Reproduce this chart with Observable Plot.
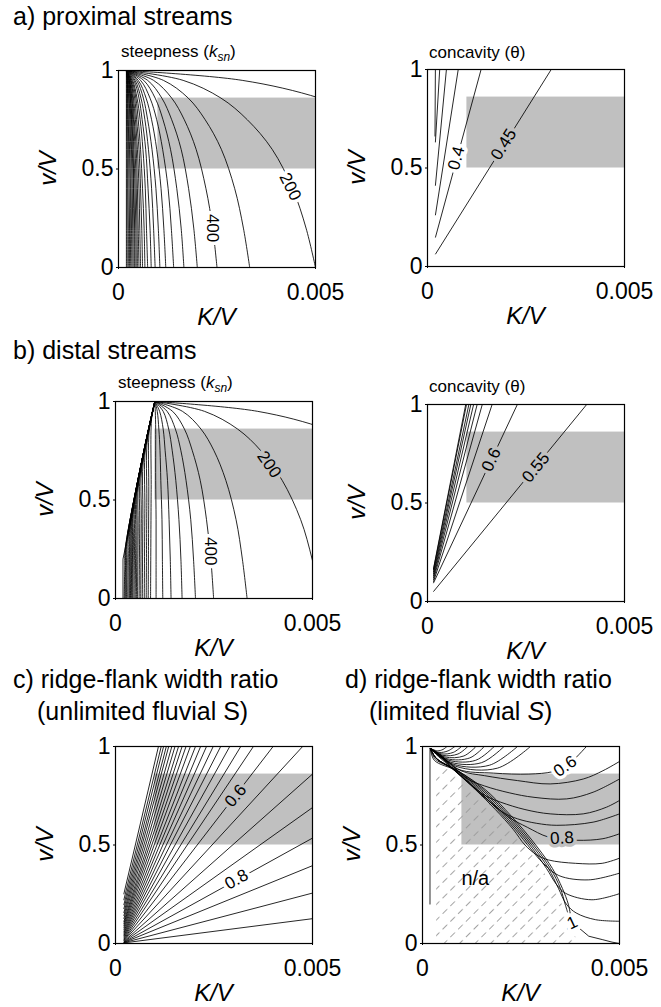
<!DOCTYPE html>
<html><head><meta charset="utf-8">
<script src="https://cdn.jsdelivr.net/npm/d3@7"></script>
<script src="https://cdn.jsdelivr.net/npm/@observablehq/plot@0.6"></script>
<style>
html,body{margin:0;padding:0;background:#fff;}
#page{position:relative;width:661px;height:1007px;overflow:hidden;font-family:"Liberation Sans",Arial,Helvetica,sans-serif;}
</style></head><body><div id="page"></div>
<script>
// ---------------- data (K/V values stored in thousandths) ----------------
const KV = 1e-3;
const xTicks = [0, 0.005];
const yTicks = [0, 0.5, 1];
const shadeKV = [1, 5];          // shaded K/V range (x 0.001)
const shadeV = [0.5, 0.86];      // shaded v/V range

// a) proximal steepness: x of each contour at shared v/V levels
const aSteepY = [0, 0.2, 0.4, 0.6, 0.75, 0.86, 0.95, 1];
const aSteepX = [
 [10.0, 9.51, 8.82, 7.75, 6.47, 5.10, 3.14, 0.2],
 [5.00, 4.76, 4.42, 3.90, 3.27, 2.60, 1.64, 0.2],
 [3.33, 3.17, 2.95, 2.61, 2.20, 1.77, 1.14, 0.2],
 [2.50, 2.39, 2.22, 1.97, 1.67, 1.35, 0.89, 0.2],
 [2.00, 1.91, 1.78, 1.59, 1.35, 1.10, 0.74, 0.2],
 [1.66, 1.59, 1.48, 1.32, 1.13, 0.93, 0.64, 0.2],
 [1.40, 1.34, 1.26, 1.12, 0.97, 0.80, 0.56, 0.2],
 [1.20, 1.15, 1.08, 0.97, 0.84, 0.70, 0.50, 0.2],
 [1.05, 1.01, 0.95, 0.85, 0.74, 0.63, 0.46, 0.2],
 [0.93, 0.89, 0.84, 0.76, 0.67, 0.57, 0.42, 0.2],
 [0.83, 0.80, 0.75, 0.69, 0.60, 0.52, 0.39, 0.2],
 [0.74, 0.71, 0.68, 0.62, 0.55, 0.47, 0.36, 0.2],
 [0.67, 0.65, 0.61, 0.56, 0.50, 0.44, 0.34, 0.2],
 [0.61, 0.59, 0.56, 0.52, 0.46, 0.41, 0.32, 0.2],
 [0.56, 0.54, 0.52, 0.48, 0.43, 0.38, 0.31, 0.2],
 [0.52, 0.50, 0.48, 0.45, 0.40, 0.36, 0.30, 0.2],
 [0.48, 0.47, 0.45, 0.42, 0.38, 0.34, 0.28, 0.2],
 [0.45, 0.44, 0.42, 0.39, 0.36, 0.33, 0.28, 0.2],
 [0.42, 0.41, 0.39, 0.37, 0.34, 0.31, 0.27, 0.2],
 [0.40, 0.39, 0.38, 0.35, 0.33, 0.30, 0.26, 0.2],
 [0.37, 0.36, 0.35, 0.33, 0.31, 0.29, 0.25, 0.2],
 [0.34, 0.33, 0.32, 0.31, 0.29, 0.27, 0.24, 0.2],
 [0.31, 0.30, 0.30, 0.28, 0.27, 0.26, 0.23, 0.2],
 [0.28, 0.28, 0.27, 0.26, 0.25, 0.24, 0.22, 0.2],
 [0.25, 0.25, 0.24, 0.24, 0.23, 0.23, 0.22, 0.2],
 [0.22, 0.22, 0.22, 0.22, 0.21, 0.21, 0.21, 0.2],
 [0.20, 0.20, 0.20, 0.20, 0.20, 0.20, 0.20, 0.2]
];
const aSteepLabels = [
 {text: "200", x: 4.36, y: 0.41, angle: 63},
 {text: "400", x: 2.38, y: 0.20, angle: 90}
];

// a) proximal concavity: straight contours [x1, y1, x2, y2]
const aConcSegs = [
 [0.19, 0.66, 0.20, 1.0],
 [0.20, 0.63, 0.31, 1.0],
 [0.20, 0.41, 0.48, 1.0],
 [0.20, 0.26, 0.78, 1.0],
 [0.20, 0.147, 1.36, 1.0],
 [0.20, 0.062, 3.14, 1.0]
];
const aConcLabels = [
 {text: "0.4", x: 0.73, y: 0.55, angle: -75},
 {text: "0.45", x: 1.93, y: 0.62, angle: -58}
];

// b) distal steepness
const bSteepY = [0, 0.2, 0.4, 0.6, 0.75, 0.86, 0.95, 1];
const bSteepX = [
 [9.70, 9.27, 8.66, 7.70, 6.57, 5.35, 3.61, 1.0],
 [5.20, 4.99, 4.70, 4.23, 3.69, 3.10, 2.26, 1.0],
 [3.34, 3.22, 3.06, 2.80, 2.50, 2.17, 1.70, 1.0],
 [2.49, 2.42, 2.31, 2.15, 1.95, 1.75, 1.45, 1.0],
 [2.03, 1.98, 1.91, 1.79, 1.66, 1.52, 1.31, 1.0],
 [1.69, 1.66, 1.61, 1.53, 1.44, 1.35, 1.21, 1.0],
 [1.41, 1.39, 1.36, 1.32, 1.26, 1.21, 1.12, 1.0],
 [1.20, 1.19, 1.18, 1.15, 1.13, 1.10, 1.06, 1.0],
 [1.03, 1.03, 1.03, 1.02, 1.02, 1.02, 1.01, 1.0]
];
const bSteepDense = [
 [[0.89, 0], [0.905, 0.553], [0.92, 0.921], [1, 1]],
 [[0.83, 0], [0.845, 0.52], [0.86, 0.865], [1, 1]],
 [[0.78, 0], [0.795, 0.487], [0.81, 0.812], [1, 1]],
 [[0.73, 0], [0.745, 0.458], [0.76, 0.763], [1, 1]],
 [[0.68, 0], [0.695, 0.428], [0.71, 0.714], [1, 1]],
 [[0.64, 0], [0.655, 0.405], [0.67, 0.675], [1, 1]],
 [[0.60, 0], [0.615, 0.381], [0.63, 0.635], [1, 1]],
 [[0.56, 0], [0.575, 0.36], [0.59, 0.6], [1, 1]],
 [[0.53, 0], [0.545, 0.339], [0.56, 0.565], [1, 1]],
 [[0.50, 0], [0.515, 0.32], [0.53, 0.535], [1, 1]],
 [[0.47, 0], [0.485, 0.304], [0.50, 0.506], [1, 1]],
 [[0.44, 0], [0.455, 0.288], [0.47, 0.48], [1, 1]],
 [[0.42, 0], [0.435, 0.274], [0.45, 0.457], [1, 1]],
 [[0.40, 0], [0.415, 0.262], [0.43, 0.437], [1, 1]],
 [[0.38, 0], [0.395, 0.250], [0.41, 0.417], [1, 1]],
 [[0.36, 0], [0.375, 0.238], [0.39, 0.397], [1, 1]],
 [[0.34, 0], [0.355, 0.227], [0.37, 0.378], [1, 1]],
 [[0.31, 0], [0.325, 0.209], [0.34, 0.348], [1, 1]],
 [[0.28, 0], [0.295, 0.191], [0.31, 0.319], [1, 1]],
 [[0.26, 0], [0.275, 0.179], [0.29, 0.299], [1, 1]],
 [[0.24, 0], [0.255, 0.167], [0.27, 0.279], [1, 1]],
 [[0.22, 0], [0.235, 0.155], [0.25, 0.259], [1, 1]]
];
const bSteepEdge = [[0.19, 0], [0.19, 0.2], [1, 1]];
const bSteepLabels = [
 {text: "200", x: 3.90, y: 0.68, angle: 55},
 {text: "400", x: 2.41, y: 0.24, angle: 90}
];

// b) distal concavity
const bConcSegs = [
 [0.15, 0.05, 4.04, 1.0],
 [0.15, 0.093, 2.28, 1.0],
 [0.15, 0.10, 1.64, 1.0],
 [0.15, 0.11, 1.39, 1.0],
 [0.15, 0.12, 1.26, 1.0],
 [0.15, 0.13, 1.17, 1.0],
 [0.15, 0.14, 1.10, 1.0],
 [0.15, 0.15, 1.05, 1.0],
 [0.15, 0.16, 0.99, 1.0],
 [0.15, 0.165, 0.97, 1.0]
];
const bConcLabels = [
 {text: "0.6", x: 1.62, y: 0.72, angle: -65},
 {text: "0.55", x: 2.75, y: 0.68, angle: -51}
];

// c) ridge-flank width ratio, unlimited: fan from K/V = 0.00021
const cFanX = 0.21;
const cTopEnds = [ // [start v/V, K/V where it meets v/V = 1]
 [0.25, 1.09], [0.22, 1.16], [0.195, 1.22], [0.175, 1.29], [0.155, 1.35],
 [0.14, 1.43], [0.125, 1.51], [0.11, 1.60], [0.10, 1.69], [0.09, 1.79],
 [0.08, 1.90], [0.07, 2.03], [0.06, 2.16], [0.052, 2.31], [0.045, 2.48],
 [0.038, 2.67], [0.032, 2.90], [0.026, 3.18], [0.02, 3.50], [0.016, 4.00],
 [0.013, 4.75]
];
const cRightEnds = [ // [start v/V, v/V where it meets K/V = 0.005]
 [0.010, 0.86], [0.008, 0.69], [0.006, 0.535], [0.005, 0.395], [0.004, 0.256], [0.003, 0.126]
];
const cLabels = [
 {text: "0.6", x: 3.05, y: 0.75, angle: -50},
 {text: "0.8", x: 3.07, y: 0.325, angle: -29}
];

// d) ridge-flank width ratio, limited
const dCurves = [
 [[0.2,0.99],[0.38,0.978],[0.52,0.985],[0.62,1]],
 [[0.2,0.99],[0.42,0.97],[0.65,0.978],[0.82,1]],
 [[0.2,0.99],[0.47,0.963],[0.78,0.97],[0.99,1]],
 [[0.2,0.99],[0.52,0.955],[0.9,0.962],[1.15,1]],
 [[0.2,0.99],[0.57,0.947],[1.05,0.952],[1.36,1]],
 [[0.2,0.99],[0.62,0.938],[1.2,0.942],[1.57,1]],
 [[0.2,0.99],[0.67,0.93],[1.35,0.93],[1.82,1]],
 [[0.2,0.99],[0.72,0.92],[1.5,0.918],[2.07,1]],
 [[0.2,0.99],[0.78,0.91],[1.7,0.905],[2.41,1]],
 [[0.2,0.99],[0.84,0.9],[1.9,0.89],[2.74,1]],
 [[0.2,0.99],[0.9,0.885],[1.8,0.865],[2.7,0.86],[3.3,0.872],[3.65,0.9],[4.16,1]],
 [[0.2,0.99],[0.6,0.93],[1.0,0.875],[1.57,0.852],[2.41,0.827],[3.24,0.81],[4.08,0.835],[4.58,0.877],[5,0.924]],
 [[0.2,0.99],[0.55,0.94],[0.8,0.895],[1.15,0.835],[1.57,0.8],[2.2,0.765],[2.83,0.742],[3.66,0.734],[4.33,0.768],[5,0.835]],
 [[0.2,0.99],[0.5,0.95],[0.74,0.892],[1.2,0.81],[1.6,0.75],[1.99,0.717],[2.6,0.68],[3.24,0.658],[4.08,0.658],[4.67,0.692],[5,0.726]],
 [[0.2,0.99],[0.45,0.95],[0.76,0.89],[1.25,0.8],[1.7,0.72],[2.05,0.665],[2.41,0.633],[2.9,0.61],[3.41,0.6],[4.33,0.616],[5,0.658]],
 [[0.2,0.99],[0.4,0.95],[0.78,0.886],[1.3,0.795],[1.8,0.705],[2.2,0.64],[2.66,0.59],[3.2,0.54],[3.91,0.524],[4.58,0.532],[5,0.557]],
 [[0.2,0.99],[0.35,0.94],[0.8,0.88],[1.35,0.78],[1.85,0.68],[2.3,0.58],[2.6,0.5],[2.9,0.45],[3.2,0.424],[3.88,0.407],[4.56,0.407],[5,0.433]],
 [[0.2,0.99],[0.35,0.94],[0.82,0.88],[1.4,0.78],[1.9,0.68],[2.35,0.58],[2.75,0.48],[3.05,0.41],[3.46,0.345],[4.22,0.323],[5,0.357]],
 [[0.2,0.99],[0.35,0.94],[0.84,0.88],[1.45,0.78],[1.95,0.68],[2.4,0.58],[2.8,0.48],[3.15,0.38],[3.4,0.3],[3.63,0.255],[4.3,0.222],[5,0.253]],
 [[0.2,0.99],[0.35,0.94],[0.86,0.88],[1.5,0.78],[2.0,0.68],[2.45,0.58],[2.85,0.48],[3.2,0.38],[3.45,0.28],[3.65,0.2],[3.9,0.155],[4.39,0.121],[5,0.113]],
 [[0.2,0.99],[0.33,0.935],[0.88,0.88],[1.55,0.78],[2.05,0.68],[2.5,0.58],[2.9,0.48],[3.25,0.38],[3.5,0.28],[3.62,0.2],[3.68,0.16]],
 [[0.2,0.99],[0.3,0.93],[0.9,0.875],[1.6,0.78],[2.1,0.68],[2.55,0.58],[2.95,0.48],[3.3,0.38],[3.55,0.28],[3.7,0.2],[3.76,0.14]]
];
const dStair = [[3.97,0.079],[4.22,0.037],[4.56,0.02],[4.81,0.007],[5,0]];
const dEdge = [[0.19,0.2],[0.19,0.99]];
const dNaTop = [[0.36,0.86],[0.5,0.895],[0.75,0.875],[1.0,0.84],[1.3,0.79],[1.7,0.71],[2.1,0.62],[2.5,0.52],[2.9,0.42],[3.25,0.31],[3.5,0.22],[3.65,0.15],[3.8,0.08],[3.95,0]];
const dLabels = [
 {text: "0.6", x: 3.62, y: 0.90, angle: -35},
 {text: "0.8", x: 3.54, y: 0.535, angle: -4},
 {text: "1", x: 3.80, y: 0.105, angle: -25}
];
const dNote = [{text: "n/a", x: 1.34, y: 0.33}];

// ---------------- drawing ----------------
const FONT = '"Liberation Sans", Arial, Helvetica, sans-serif';
const GRAY = "#c0c0c0";
const S = 197, ML = 100, MR = 45, MT = 15, MB = 70;
const page = document.getElementById("page");
const shade = [{x1: shadeKV[0]*KV, x2: shadeKV[1]*KV, y1: shadeV[0], y2: shadeV[1]}];
const inShade = d => d.x >= shadeKV[0] && d.y >= shadeV[0] && d.y <= shadeV[1];

const fromGrid = (ys, rows) => rows.flatMap((row, i) => row.map((x, j) => ({x: x*KV, y: ys[j], id: i})));
const fromPaths = list => list.flatMap((pts, i) => pts.map(([x, y]) => ({x: x*KV, y, id: i})));
const fromSegs = list => list.map(([x1, y1, x2, y2]) => ({x1: x1*KV, y1, x2: x2*KV, y2}));
const lineOpts = {x: "x", y: "y", z: "id", stroke: "black", strokeWidth: 0.85, clip: true};
const curved = data => Plot.line(data, {...lineOpts, curve: "catmull-rom"});
const straight = data => Plot.line(data, {...lineOpts, curve: "linear"});
const links = data => Plot.link(data, {x1: "x1", y1: "y1", x2: "x2", y2: "y2", stroke: "black", strokeWidth: 0.85, clip: true});
function labelMarks(labels) {
  const mk = (list, halo) => Plot.text(list, {x: d => d.x*KV, y: "y", text: "text", rotate: "angle",
    fontSize: 17, fill: "black", stroke: halo, strokeWidth: 7, paintOrder: "stroke", strokeLinejoin: "round"});
  return [mk(labels.filter(inShade), GRAY), mk(labels.filter(d => !inShade(d)), "white")];
}
const tickFmt = d => String(d);

function makePanel(FL, FT, marks, after) {
  const svg = Plot.plot({
    width: ML + S + MR, height: MT + S + MB,
    marginLeft: ML, marginRight: MR, marginTop: MT, marginBottom: MB,
    style: {background: "none", fontFamily: FONT, fontSize: "23px", color: "black", overflow: "visible"},
    x: {domain: [0, 0.005], ticks: xTicks, tickFormat: tickFmt, tickSize: 2, tickPadding: 14, label: null},
    y: {domain: [0, 1], ticks: yTicks, tickFormat: tickFmt, tickSize: 2, tickPadding: 3, label: null},
    marks: [
      Plot.rect(shade, {x1: "x1", x2: "x2", y1: "y1", y2: "y2", fill: GRAY}),
      ...marks,
      Plot.frame({stroke: "black", strokeWidth: 1.2})
    ]
  });
  svg.style.position = "absolute";
  svg.style.left = (FL - ML) + "px";
  svg.style.top = (FT - MT) + "px";
  if (after) after(svg);
  page.appendChild(svg);
}

const P = {
  aL: {FL: 118, FT: 70}, aR: {FL: 427, FT: 69},
  bL: {FL: 115, FT: 401}, bR: {FL: 427, FT: 404},
  c: {FL: 115, FT: 746}, d: {FL: 422, FT: 746}
};

makePanel(P.aL.FL, P.aL.FT, [curved(fromGrid(aSteepY, aSteepX)), ...labelMarks(aSteepLabels)]);
makePanel(P.aR.FL, P.aR.FT, [links(fromSegs(aConcSegs)), ...labelMarks(aConcLabels)]);
makePanel(P.bL.FL, P.bL.FT, [curved(fromGrid(bSteepY, bSteepX)), curved(fromPaths(bSteepDense)),
  straight(fromPaths([bSteepEdge])), ...labelMarks(bSteepLabels)]);
makePanel(P.bR.FL, P.bR.FT, [links(fromSegs(bConcSegs)), ...labelMarks(bConcLabels)]);
const cSegs = [
  ...cTopEnds.map(([yb, xt]) => [cFanX, yb, xt, 1]),
  ...cRightEnds.map(([yb, yr]) => [cFanX, yb, 5, yr])
];
makePanel(P.c.FL, P.c.FT, [links(fromSegs(cSegs)), ...labelMarks(cLabels)]);
makePanel(P.d.FL, P.d.FT, [
  Plot.areaY(dNaTop, {x: d => d[0]*KV, y1: 0, y2: d => d[1], fill: "url(#naHatch)", curve: "linear"}),
  curved(fromPaths(dCurves)), straight(fromPaths([dStair, dEdge])),
  ...labelMarks(dLabels),
  Plot.text(dNote, {x: d => d.x*KV, y: "y", text: "text", fontSize: 20, fill: "black"})
], svg => {
  const NS = "http://www.w3.org/2000/svg";
  const defs = document.createElementNS(NS, "defs");
  const pat = document.createElementNS(NS, "pattern");
  pat.setAttribute("id", "naHatch");
  pat.setAttribute("patternUnits", "userSpaceOnUse");
  pat.setAttribute("width", "11"); pat.setAttribute("height", "11");
  pat.setAttribute("patternTransform", "rotate(-45)");
  const ln = document.createElementNS(NS, "line");
  ln.setAttribute("x1", "0"); ln.setAttribute("y1", "5.5");
  ln.setAttribute("x2", "6.5"); ln.setAttribute("y2", "5.5");
  ln.setAttribute("stroke", "#9a9a9a"); ln.setAttribute("stroke-width", "0.9");
  pat.appendChild(ln); defs.appendChild(pat);
  svg.insertBefore(defs, svg.firstChild);
});

// ---------------- titles and axis labels ----------------
const NS = "http://www.w3.org/2000/svg";
const ov = document.createElementNS(NS, "svg");
ov.setAttribute("width", 661); ov.setAttribute("height", 1007);
ov.style.position = "absolute"; ov.style.left = "0"; ov.style.top = "0"; ov.style.pointerEvents = "none";
ov.setAttribute("font-family", FONT);
page.appendChild(ov);
function addText(x, y, parts, size, opts = {}) {
  const t = document.createElementNS(NS, "text");
  t.setAttribute("x", x); t.setAttribute("y", y); t.setAttribute("font-size", size);
  if (opts.anchor) t.setAttribute("text-anchor", opts.anchor);
  if (opts.italic) t.setAttribute("font-style", "italic");
  if (opts.rotate) t.setAttribute("transform", `rotate(${opts.rotate},${x},${y})`);
  if (opts.dy) t.setAttribute("dy", opts.dy);
  for (const p of parts) {
    const s = document.createElementNS(NS, "tspan");
    if (typeof p === "string") s.textContent = p;
    else {
      s.textContent = p.t;
      if (p.italic) s.setAttribute("font-style", "italic");
      if (p.size) s.setAttribute("font-size", p.size);
      if (p.dy) s.setAttribute("dy", p.dy);
    }
    t.appendChild(s);
  }
  ov.appendChild(t);
}
const TS = 25;
addText(13, 25, ["a) proximal streams"], TS);
addText(13, 359, ["b) distal streams"], TS);
addText(13, 688, ["c) ridge-flank width ratio"], TS);
addText(37, 720, ["(unlimited fluvial S)"], TS);
addText(345, 688, ["d) ridge-flank width ratio"], TS);
addText(369, 720, ["(limited fluvial ", {t: "S", italic: true}, ")"], TS);
const steep = ["steepness (", {t: "k", italic: true}, {t: "sn", italic: true, size: 12, dy: 4}, {t: ")", dy: -4}];
addText(P.aL.FL + 3, P.aL.FT - 13, steep, 17);
addText(P.bL.FL + 3, P.bL.FT - 13, steep, 17);
addText(P.aR.FL + 2, P.aR.FT - 11, ["concavity (θ)"], 17);
addText(P.bR.FL + 2, P.bR.FT - 12, ["concavity (θ)"], 17);
for (const k of Object.keys(P)) {
  const {FL, FT} = P[k];
  addText(FL - 70, FT + S/2, ["v/V"], 24, {anchor: "middle", italic: true, rotate: -90, dy: "0.35em"});
  addText(FL + S/2, FT + S + 58, ["K/V"], 24, {anchor: "middle", italic: true});
}
</script></body></html>
